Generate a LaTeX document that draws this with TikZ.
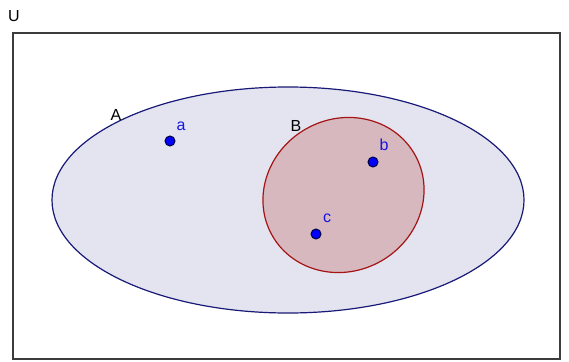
\documentclass[tikz,border=0pt]{standalone}
\usepackage{fontspec}
\setmainfont{Liberation Sans}
\begin{document}
\begin{tikzpicture}[x=1pt,y=-1pt,
  setlabel/.style={font=\fontsize{16}{18}\selectfont,text=black,inner sep=0pt},
  ptlabel/.style={font=\fontsize{16}{18}\selectfont,text={rgb,255:red,20;green,20;blue,230},inner sep=0pt},
  pt/.style={circle,fill={rgb,255:red,0;green,0;blue,255},draw={rgb,255:red,0;green,0;blue,60},line width=1pt,minimum size=10pt,inner sep=0pt}]
\useasboundingbox (0,0) rectangle (569,361);
\fill[white] (0,0) rectangle (569,361);
\draw[line width=1.8pt,draw={rgb,255:red,60;green,60;blue,60}] (13,33) rectangle (560,359);
\node[setlabel] (U) at (14,16) {U};
\filldraw[fill={rgb,255:red,228;green,228;blue,240},draw={rgb,255:red,25;green,25;blue,120},line width=1.2pt] (288,200) ellipse [x radius=236, y radius=113];
\node[setlabel] (A) at (116,115) {A};
\filldraw[fill={rgb,255:red,214;green,184;blue,190},draw={rgb,255:red,165;green,20;blue,20},line width=1.2pt,rotate around={30:(343.5,195)}] (343.5,195) ellipse [x radius=82, y radius=76];
\node[setlabel] (B) at (296,126) {B};
\node[pt] (pa) at (170,141) {};
\node[pt] (pb) at (373,162) {};
\node[pt] (pc) at (316,234) {};
\node[ptlabel] (la) at (181,126) {a};
\node[ptlabel] (lb) at (384,145) {b};
\node[ptlabel] (lc) at (327,218) {c};
\end{tikzpicture}
\end{document}
